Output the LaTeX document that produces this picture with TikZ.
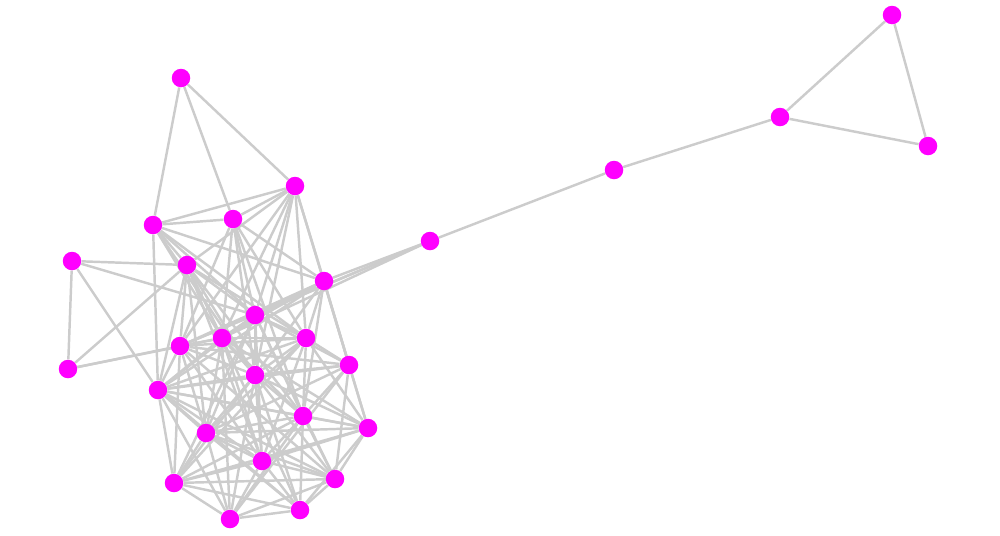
\documentclass[tikz,border=0pt]{standalone}
\usepackage{xcolor}
\usepackage{tikz}
\usetikzlibrary{backgrounds}

\definecolor{vtxcol}{RGB}{255,0,255}
\definecolor{edgecol}{RGB}{204,204,204}

\begin{document}
\begin{tikzpicture}[x=0.02cm,y=-0.02cm,
      vtx/.style={circle,fill=vtxcol,inner sep=0pt,minimum size=0.37cm},
      edge/.style={draw=edgecol,line width=1.4pt}
]
\useasboundingbox (0,0) rectangle (1000,535);
\node[vtx] (v1) at (181,78) {};
\node[vtx] (v2) at (295,186) {};
\node[vtx] (v3) at (233,219) {};
\node[vtx] (v4) at (153,225) {};
\node[vtx] (v5) at (72,261) {};
\node[vtx] (v6) at (187,265) {};
\node[vtx] (v7) at (324,281) {};
\node[vtx] (v8) at (430,241) {};
\node[vtx] (v9) at (614,170) {};
\node[vtx] (v10) at (780,117) {};
\node[vtx] (v11) at (892,15) {};
\node[vtx] (v12) at (928,146) {};
\node[vtx] (v13) at (68,369) {};
\node[vtx] (v14) at (255,315) {};
\node[vtx] (v15) at (222,338) {};
\node[vtx] (v16) at (180,346) {};
\node[vtx] (v17) at (306,338) {};
\node[vtx] (v18) at (349,365) {};
\node[vtx] (v19) at (255,375) {};
\node[vtx] (v20) at (158,390) {};
\node[vtx] (v21) at (303,416) {};
\node[vtx] (v22) at (368,428) {};
\node[vtx] (v23) at (206,433) {};
\node[vtx] (v24) at (262,461) {};
\node[vtx] (v25) at (335,479) {};
\node[vtx] (v26) at (174,483) {};
\node[vtx] (v27) at (230,519) {};
\node[vtx] (v28) at (300,510) {};

\begin{pgfonlayer}{background}
% sparse part
\foreach \a/\b in {1/2,1/3,1/4,2/3,2/4,3/4,5/6,5/13,5/14,5/20,6/13,13/15,13/16,
      7/8,8/14,8/15,8/16,8/9,9/10,10/11,10/12,11/12}
      \draw[edge] (v\a) -- (v\b);
% dense part
\foreach \a/\b in {2/7,2/14,2/15,2/17,2/19,2/16,2/18,2/6,
      3/7,3/14,3/15,3/17,3/19,3/16,3/21,
      4/6,4/7,4/14,4/15,4/17,4/20,4/19,
      6/14,6/15,6/16,6/17,6/19,6/20,6/21,6/23,6/24,
      7/14,7/15,7/16,7/17,7/18,7/19,7/21,7/22,7/20,
      14/15,14/16,14/17,14/18,14/19,14/20,14/21,14/23,14/24,14/25,14/26,
      15/16,15/17,15/19,15/20,15/21,15/22,15/23,15/24,15/27,15/28,
      16/17,16/19,16/20,16/23,16/24,16/25,16/26,16/18,
      17/18,17/19,17/20,17/21,17/22,17/23,17/24,17/26,
      18/19,18/20,18/21,18/22,18/23,18/25,18/27,
      19/20,19/21,19/22,19/23,19/24,19/25,19/26,19/27,19/28,
      20/21,20/22,20/23,20/24,20/25,20/26,20/27,20/28,
      21/22,21/23,21/24,21/25,21/26,21/27,21/28,
      22/23,22/24,22/25,22/28,22/26,
      23/24,23/25,23/26,23/27,23/28,
      24/25,24/26,24/27,24/28,
      25/26,25/27,25/28,26/27,26/28,27/28}
      \draw[edge] (v\a) -- (v\b);
\end{pgfonlayer}
\end{tikzpicture}
\end{document}
